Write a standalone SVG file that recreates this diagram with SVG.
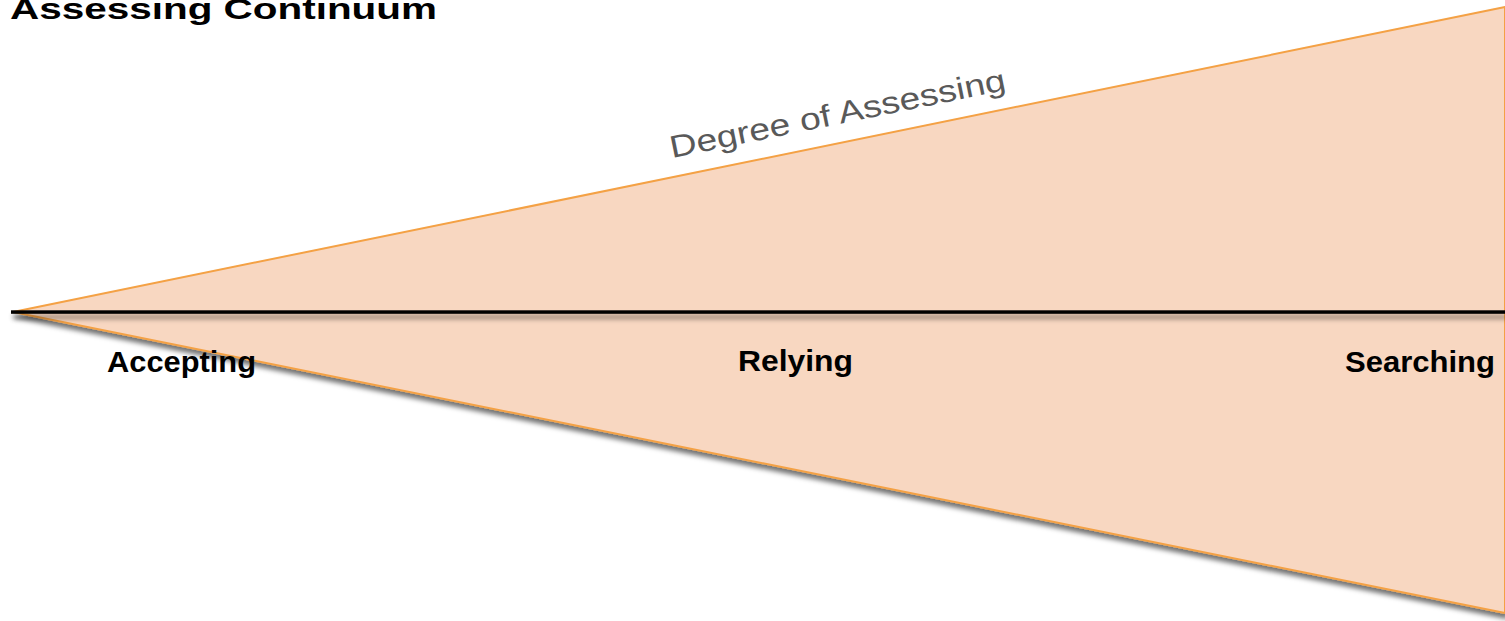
<svg xmlns="http://www.w3.org/2000/svg" width="1505" height="621" viewBox="0 0 1505 621">
<defs>
<filter id="sh" x="-5%" y="-10%" width="110%" height="130%">
<feGaussianBlur in="SourceAlpha" stdDeviation="2.5"/>
<feOffset dx="2" dy="5" result="b"/>
<feFlood flood-color="#000" flood-opacity="0.55"/>
<feComposite in2="b" operator="in"/>
<feMerge><feMergeNode/><feMergeNode in="SourceGraphic"/></feMerge>
</filter>
<filter id="shl" filterUnits="userSpaceOnUse" x="0" y="295" width="1505" height="40">
<feGaussianBlur in="SourceAlpha" stdDeviation="2.5"/>
<feOffset dx="2" dy="5" result="b"/>
<feFlood flood-color="#000" flood-opacity="0.45"/>
<feComposite in2="b" operator="in"/>
<feMerge><feMergeNode/><feMergeNode in="SourceGraphic"/></feMerge>
</filter>
<style>
.lbl{font-family:"Liberation Sans",Arial,sans-serif;font-weight:bold;fill:#000;font-size:30px}
</style>
</defs>
<rect width="1505" height="621" fill="#fff"/>
<g id="title"><text class="lbl" x="10" y="19" font-size="36" textLength="427" lengthAdjust="spacingAndGlyphs">Assessing Continuum</text></g>
<g id="wedge" filter="url(#sh)">
<polygon points="13,312 1505,7 1505,613" fill="#F8D7C1" stroke="#F4A144" stroke-width="2" stroke-linejoin="round"/>
</g>
<g id="connectors">
<rect x="11" y="310.3" width="1494" height="3.5" fill="#000" filter="url(#shl)"/>
</g>
<g id="degree"><text x="672" y="158" transform="rotate(-11.5 672 158)" font-family="'Liberation Sans',Arial,sans-serif" font-size="31" fill="#595959" textLength="342" lengthAdjust="spacingAndGlyphs">Degree of Assessing</text></g>
<g id="accepting"><text class="lbl" x="107" y="372" textLength="149" lengthAdjust="spacingAndGlyphs">Accepting</text></g>
<g id="relying"><text class="lbl" x="738" y="371" textLength="115" lengthAdjust="spacingAndGlyphs">Relying</text></g>
<g id="searching"><text class="lbl" x="1345" y="372" textLength="150" lengthAdjust="spacingAndGlyphs">Searching</text></g>
</svg>
